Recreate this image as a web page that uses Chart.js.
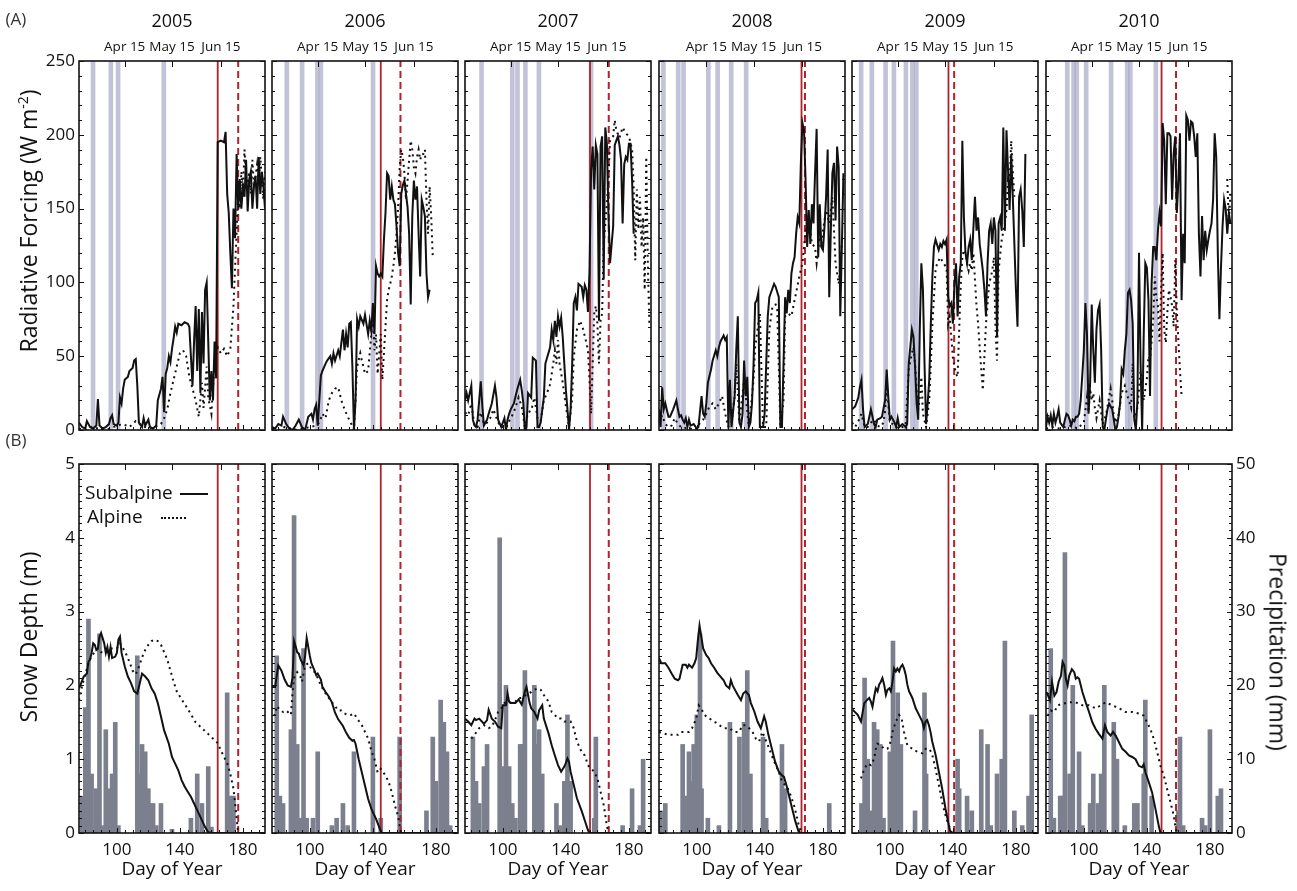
<!DOCTYPE html>
<html>
<head>
<meta charset="utf-8">
<script src="https://cdn.jsdelivr.net/npm/chart.js@4.4.1/dist/chart.umd.min.js"></script>
<style>
  body { margin: 0; background: #fff; font-family: 'Open Sans', sans-serif; color: #111; }
  #fig { position: relative; width: 1297px; height: 891px; overflow: hidden; }
  .panel { position: absolute; }
  .lbl { position: absolute; white-space: nowrap; line-height: 1; transform: translate(-50%, -50%); }
  .rotL { transform: translate(-50%, -50%) rotate(-90deg); }
  .rotR { transform: translate(-50%, -50%) rotate(90deg); }
  .lbl sup { font-size: 0.6em; vertical-align: 0.7em; }
  .leg { position: absolute; font-size: 19px; line-height: 1; white-space: nowrap; }
</style>
</head>
<body>
<div id="fig"></div>
<script>
// x axis: day of year
const X_MIN = 76, X_MAX = 194;
const years = [2005, 2006, 2007, 2008, 2009, 2010];
const monthLabels = ['Apr 15', 'May 15', 'Jun 15'];
const monthDays = [[105, 135, 166], [105, 135, 166], [105, 135, 166], [106, 136, 167], [105, 135, 166], [105, 135, 166]];
const dayTicks = [100, 140, 180];

// snowmelt dates (red lines): subalpine solid, alpine dashed
const meltSub = [164, 145, 155.3, 166.4, 137.2, 149.3];
const meltAlp = [177, 157.5, 167.2, 168.6, 140.8, 158.5];

// (A) shaded days
const bands2005 = [84.9, 96.2, 100.8, 129.8];
const bands2006 = [85.4, 95.1, 104.8, 107, 140.1];
const bands2007 = [86.5, 106, 109.3, 114.3, 122.9, 156];
const bands2008 = [78.8, 88.2, 91.6, 107.3, 113.2, 121.8, 131.3];
const bands2009 = [81.8, 88.6, 97.3, 102.6, 110.2, 114.3, 116.8];
const bands2010 = [89.5, 93.5, 95.5, 101.5, 117.3, 127.5, 129.5, 145.7];

// (A) radiative forcing, W m-2 : [day, value]
const rfSub2005 = [[76,5],[78,2],[80,1],[81,6],[83,2],[85,1],[87,3],[88,21],[89,3],[91,1],[93,2],[95,4],[96,8],[97,10],[98,4],[100,3],[101,5],[102,22],[103,18],[104,28],[105,34],[106,35],[107,36],[108,40],[110,42],[111,47],[112,48],[113,30],[114,5],[116,2],[117,8],[118,3],[120,7],[121,2],[123,1],[125,3],[126,20],[128,28],[129,36],[130,12],[131,38],[132,42],[133,50],[134,46],[135,55],[136,62],[137,70],[138,66],[139,72],[141,71],[143,73],[145,72],[146,70],[147,50],[148,30],[149,60],[150,84],[151,40],[152,82],[153,25],[154,80],[155,45],[156,95],[157,100],[158,60],[159,20],[160,40],[161,20],[162,60],[163,35],[164,195],[166,196],[168,195],[169,202],[170,160],[171,147],[172,120],[173,96],[174,150],[175,130],[176,187],[177,150],[178,170],[179,150],[180,165],[181,158],[182,183],[183,148],[184,170],[185,175],[186,150],[187,165],[188,172],[189,150],[190,185],[191,160],[192,175],[193,165],[194,150]];
const rfAlp2005 = [[76,1],[80,0],[84,2],[88,1],[92,0],[96,1],[100,3],[104,4],[108,2],[112,6],[116,3],[120,1],[124,2],[128,4],[130,8],[132,14],[134,25],[136,34],[138,43],[140,52],[142,54],[144,50],[146,36],[148,28],[150,20],[152,9],[154,32],[155,15],[157,43],[158,22],[160,11],[162,47],[164,56],[166,52],[168,55],[170,50],[172,55],[174,84],[175,110],[176,133],[177,165],[178,150],[179,175],[180,160],[181,190],[182,170],[183,167],[184,175],[185,160],[186,183],[187,165],[188,172],[189,180],[190,168],[191,185],[192,170],[193,156],[194,175]];
const rfSub2006 = [[76,2],[78,1],[80,4],[82,3],[83,9],[85,4],[87,1],[89,0],[91,3],[93,7],[95,2],[97,0],[99,9],[101,11],[102,7],[103,14],[104,17],[105,3],[107,37],[108,40],[110,45],[111,47],[113,50],[114,45],[115,52],[116,47],[118,54],[119,50],[120,59],[121,68],[122,54],[123,65],[124,56],[125,72],[126,73],[127,43],[128,0],[129,20],[130,75],[131,70],[132,77],[134,72],[135,78],[137,65],[138,74],[139,67],[140,86],[141,65],[142,111],[143,106],[144,104],[145,106],[146,104],[147,129],[148,147],[149,174],[150,172],[151,156],[152,165],[153,156],[154,153],[155,138],[156,120],[157,111],[158,160],[159,166],[160,169],[161,160],[162,151],[163,133],[164,85],[165,145],[166,169],[167,156],[168,165],[169,133],[170,104],[171,156],[172,151],[173,145],[174,106],[175,90],[176,95]];
const rfAlp2006 = [[76,1],[80,0],[84,2],[88,1],[92,0],[96,1],[100,2],[104,3],[106,5],[108,11],[110,8],[112,20],[114,25],[116,28],[118,29],[120,20],[122,14],[124,9],[126,5],[128,0],[130,43],[132,52],[133,47],[134,43],[135,38],[137,40],[139,65],[140,77],[141,54],[142,65],[143,38],[145,65],[146,34],[147,52],[148,70],[149,88],[150,95],[151,99],[152,104],[153,111],[154,120],[155,133],[156,151],[157,178],[158,190],[159,185],[160,174],[161,156],[162,169],[163,183],[164,196],[165,190],[166,178],[167,174],[168,185],[169,190],[170,183],[171,187],[172,187],[173,190],[174,156],[175,133],[176,165],[177,145],[178,117]];
const rfSub2007 = [[76,20],[77,25],[78,20],[80,30],[81,7],[82,3],[83,2],[84,7],[86,33],[87,16],[88,3],[90,7],[91,11],[93,18],[95,30],[96,22],[97,7],[99,2],[101,8],[102,0],[103,7],[104,11],[105,14],[107,18],[109,27],[111,34],[112,27],[113,18],[114,0],[115,2],[116,25],[118,22],[119,49],[121,47],[122,2],[123,2],[124,5],[126,22],[127,45],[130,56],[131,68],[132,61],[133,74],[134,63],[135,77],[136,70],[137,76],[138,63],[139,45],[140,27],[141,14],[142,0],[143,14],[144,45],[145,86],[146,90],[147,81],[148,99],[150,97],[151,90],[152,98],[153,95],[154,80],[155,108],[156,176],[157,192],[158,163],[159,193],[160,187],[161,74],[162,192],[163,199],[164,102],[165,205],[166,194],[167,147],[168,113],[170,138],[171,193],[172,196],[173,199],[174,193],[175,183],[176,140],[177,180],[178,185],[179,183],[180,194],[181,194],[182,169],[183,133]];
const rfAlp2007 = [[76,12],[78,10],[80,18],[82,3],[84,2],[86,12],[88,4],[90,5],[92,8],[94,14],[96,8],[98,3],[100,2],[102,1],[104,6],[106,10],[108,15],[110,22],[112,16],[114,2],[116,12],[118,13],[120,22],[122,8],[124,6],[126,20],[128,25],[130,31],[132,45],[133,54],[134,45],[135,61],[136,45],[138,32],[140,16],[142,2],[144,22],[145,49],[147,68],[149,74],[151,68],[153,59],[154,54],[155,34],[156,11],[158,79],[159,84],[160,72],[161,45],[162,74],[163,79],[164,126],[166,153],[167,170],[168,196],[170,199],[171,210],[172,203],[174,198],[176,205],[178,201],[180,199],[182,190],[183,165],[184,115],[185,163],[186,136],[187,158],[188,124],[189,144],[190,95],[191,185],[192,112],[193,70]];
const rfSub2008 = [[76,14],[77,2],[78,29],[79,14],[80,18],[82,9],[83,9],[85,14],[87,20],[88,14],[89,9],[90,10],[91,7],[92,5],[93,8],[94,2],[95,7],[96,3],[98,4],[100,1],[101,2],[103,23],[104,11],[105,9],[106,18],[107,32],[109,41],[110,47],[112,54],[113,50],[114,56],[115,60],[117,64],[118,61],[119,63],[120,2],[121,34],[122,2],[124,23],[125,54],[126,77],[127,5],[128,2],[129,11],[130,47],[131,23],[132,36],[133,2],[134,5],[135,18],[136,45],[137,86],[138,88],[139,93],[140,2],[142,2],[143,11],[145,77],[146,90],[147,93],[149,99],[150,97],[152,90],[153,2],[154,2],[155,45],[156,90],[157,79],[158,95],[159,86],[160,106],[161,113],[162,117],[163,133],[164,144],[165,140],[166,181],[167,208],[168,203],[169,169],[170,124],[171,149],[172,126],[173,153],[174,140],[175,174],[176,204],[177,117],[178,153],[179,124],[180,122],[181,138],[182,158],[183,190],[184,90],[185,135],[186,174],[187,181],[188,142],[189,192],[190,178],[191,77],[192,124],[193,174]];
const rfAlp2008 = [[76,5],[78,10],[80,4],[82,2],[84,3],[86,8],[88,4],[90,2],[92,1],[94,2],[96,1],[98,0],[100,1],[102,5],[104,7],[106,11],[108,16],[110,18],[112,14],[114,18],[116,23],[118,11],[120,2],[122,5],[124,23],[125,45],[127,5],[130,34],[133,2],[136,34],[137,56],[139,72],[140,79],[142,2],[144,2],[146,68],[148,84],[150,85],[151,83],[153,2],[155,20],[156,77],[158,79],[160,77],[162,88],[163,93],[165,104],[167,113],[169,135],[171,144],[173,126],[175,124],[176,113],[178,131],[179,124],[180,135],[182,149],[184,140],[186,158],[188,113],[190,99],[192,126]];
const rfSub2009 = [[76,14],[78,16],[80,22],[81,29],[82,34],[83,14],[84,2],[86,4],[88,14],[89,9],[90,4],[91,2],[92,7],[94,8],[95,9],[97,20],[98,41],[99,23],[100,7],[101,9],[102,7],[103,5],[104,2],[105,8],[106,2],[108,4],[110,2],[111,4],[112,45],[114,68],[115,63],[116,43],[117,18],[118,7],[119,68],[120,113],[121,95],[122,45],[123,4],[124,18],[125,34],[126,72],[127,104],[128,124],[129,129],[131,122],[132,126],[133,124],[134,128],[135,126],[136,129],[137,90],[138,84],[139,86],[140,72],[141,99],[142,113],[143,77],[144,104],[145,113],[146,196],[147,144],[148,120],[149,113],[150,124],[151,129],[152,115],[154,158],[155,135],[156,144],[157,126],[158,117],[159,108],[160,95],[161,77],[162,113],[163,135],[164,140],[165,126],[166,144],[167,135],[168,63],[169,140],[170,144],[171,135],[172,205],[173,135],[174,203],[175,176],[176,149],[177,187],[178,158],[180,95],[181,70],[182,158],[183,163],[184,149],[185,124],[186,187]];
const rfAlp2009 = [[76,5],[78,2],[80,6],[82,11],[84,2],[86,2],[88,5],[90,7],[92,3],[94,2],[96,5],[97,13],[98,32],[99,18],[100,5],[102,4],[104,2],[106,1],[108,2],[110,3],[112,41],[114,52],[115,56],[116,45],[117,27],[118,14],[119,22],[120,36],[121,11],[123,2],[125,20],[126,45],[127,72],[128,90],[129,108],[130,113],[132,117],[134,113],[136,110],[137,72],[138,77],[139,63],[140,49],[141,43],[142,38],[143,36],[145,99],[146,117],[147,122],[148,120],[149,113],[150,108],[151,113],[152,108],[153,120],[155,84],[156,72],[157,56],[158,41],[159,27],[161,72],[163,99],[165,108],[166,117],[167,70],[168,47],[169,108],[171,129],[173,140],[174,149],[175,169],[176,165],[177,196],[178,176],[179,158]];
const rfSub2010 = [[76,2],[77,9],[78,5],[79,10],[80,3],[81,11],[82,5],[83,9],[84,14],[85,5],[87,2],[88,7],[89,11],[90,10],[91,7],[92,3],[93,7],[94,6],[95,9],[96,9],[97,11],[98,20],[100,54],[101,86],[102,65],[103,11],[104,32],[105,85],[106,54],[107,32],[108,68],[109,81],[110,85],[111,54],[112,2],[113,0],[114,7],[115,14],[116,18],[118,14],[119,7],[120,0],[121,2],[122,9],[123,18],[124,41],[125,38],[126,54],[127,65],[128,93],[129,95],[130,88],[131,72],[132,7],[133,0],[134,20],[135,120],[136,45],[137,0],[138,65],[139,113],[140,110],[141,88],[142,23],[143,99],[144,124],[145,124],[146,115],[147,135],[148,147],[149,138],[150,208],[151,196],[152,153],[153,201],[154,201],[155,199],[156,156],[157,187],[158,199],[159,147],[160,169],[161,201],[162,88],[163,133],[164,113],[165,213],[166,210],[167,196],[168,209],[169,208],[170,199],[171,185],[172,201],[173,133],[174,104],[175,145],[176,115],[177,135],[178,122],[179,129],[180,135],[181,140],[182,156],[183,201],[184,185],[185,120],[186,75],[187,110],[188,138],[189,156],[190,150],[191,133],[192,147],[193,140]];
const rfAlp2010 = [[76,1],[80,2],[84,1],[88,2],[92,3],[96,1],[100,5],[102,22],[103,12],[104,28],[105,20],[106,25],[107,15],[108,8],[110,20],[112,4],[114,10],[116,22],[117,28],[118,20],[119,10],[120,5],[122,10],[124,25],[126,30],[128,22],[130,15],[131,45],[132,8],[134,15],[136,40],[138,20],[140,35],[141,50],[142,48],[143,60],[144,75],[145,104],[146,90],[147,84],[148,60],[149,95],[150,120],[151,68],[152,59],[153,80],[154,95],[155,90],[156,84],[157,70],[158,115],[159,80],[160,60],[161,40],[162,23],[163,null],[191,170],[192,140],[193,160]];

// (B) snow depth, m : [day, value]
const snowSub2005 = [[76,1.96],[79,2.12],[81,2.16],[82,2.32],[83,2.35],[84,2.44],[85,2.57],[86,2.55],[87,2.48],[88,2.5],[89,2.66],[90,2.71],[92,2.57],[93,2.44],[94,2.52],[95,2.39],[96,2.52],[97,2.37],[99,2.39],[100,2.44],[101,2.62],[102,2.66],[103,2.44],[105,2.26],[107,2.12],[109,2.03],[111,1.92],[113,1.89],[115,2.07],[116,2.16],[118,2.12],[120,2.07],[122,1.96],[124,1.89],[126,1.76],[128,1.58],[130,1.39],[133,1.21],[135,1.03],[137,0.94],[139,0.85],[141,0.72],[143,0.63],[145,0.56],[147,0.49],[149,0.4],[151,0.31],[154,0.17],[156,0.08],[158,0.01],[161,0],[194,0]];
const snowAlp2005 = [[76,1.8],[78,2.0],[80,2.15],[82,2.3],[84,2.4],[86,2.45],[88,2.5],[90,2.45],[92,2.45],[94,2.45],[96,2.5],[98,2.5],[100,2.5],[102,2.57],[104,2.5],[106,2.42],[108,2.32],[110,2.2],[112,2.15],[114,2.25],[116,2.38],[118,2.48],[120,2.55],[122,2.6],[124,2.62],[126,2.6],[128,2.55],[130,2.45],[132,2.35],[134,2.2],[136,2.05],[138,1.92],[140,1.85],[145,1.68],[150,1.5],[155,1.4],[160,1.3],[164,1.22],[166,1.12],[168,1.03],[170,0.95],[172,0.8],[174,0.6],[175,0.4],[176,0.2],[177,0],[194,0]];
const snowSub2006 = [[76,1.98],[78,1.98],[80,2.27],[82,2.2],[84,2.08],[86,2.0],[88,1.98],[89,2.1],[90,2.6],[91,2.53],[92,2.45],[93,2.43],[94,2.36],[96,2.27],[97,2.4],[98,2.64],[100,2.4],[101,2.3],[103,2.2],[104,2.14],[105,2.16],[107,2.08],[108,1.98],[110,1.91],[112,1.85],[114,1.77],[116,1.63],[118,1.54],[121,1.45],[123,1.36],[125,1.29],[127,1.25],[128,1.26],[129,1.21],[131,1.0],[133,0.82],[135,0.64],[137,0.46],[139,0.33],[142,0.19],[144,0.08],[145.5,0],[194,0]];
const snowAlp2006 = [[77,1.6],[78,1.6],[79,1.72],[81,1.67],[83,1.64],[85,1.66],[88,1.6],[89,1.9],[90,2.1],[92,2.18],[94,2.12],[95,2.05],[97,2.27],[99,2.3],[101,2.22],[103,2.18],[105,2.1],[107,2.0],[110,1.89],[112,1.83],[114,1.77],[116,1.72],[118,1.66],[120,1.66],[122,1.62],[124,1.6],[126,1.6],[128,1.62],[130,1.55],[133,1.46],[135,1.37],[137,1.28],[139,1.12],[141,1.0],[143,0.82],[145,0.87],[148,0.78],[150,0.69],[152,0.55],[154,0.37],[156,0.23],[157,0.1],[158,0],[194,0]];
const snowSub2007 = [[76,1.55],[78,1.51],[80,1.46],[82,1.55],[83,1.53],[85,1.55],[88,1.48],[90,1.53],[91,1.67],[93,1.55],[95,1.51],[97,1.44],[99,1.42],[100,1.73],[102,1.73],[103,1.89],[104,1.78],[105,1.76],[108,1.76],[110,1.81],[112,1.74],[113,1.83],[114,1.92],[115,1.98],[116,1.87],[117,1.76],[118,1.69],[120,1.64],[122,1.55],[123,1.66],[125,1.73],[126,1.55],[129,1.35],[131,1.19],[133,1.05],[135,0.92],[137,0.83],[139,0.9],[140,0.95],[141,1.01],[142,0.96],[143,0.83],[145,0.65],[147,0.47],[150,0.3],[152,0.17],[154,0.04],[155,0],[194,0]];
const snowAlp2007 = [[80,1.28],[82,1.33],[85,1.42],[88,1.46],[91,1.42],[93,1.44],[95,1.53],[97,1.64],[99,1.69],[101,1.76],[103,1.78],[106,1.76],[108,1.78],[110,1.83],[112,1.83],[114,1.86],[116,1.89],[118,1.91],[120,1.94],[122,1.96],[124,1.94],[126,1.87],[129,1.78],[131,1.64],[133,1.6],[135,1.55],[137,1.55],[139,1.51],[141,1.51],[143,1.51],[145,1.42],[147,1.24],[150,1.1],[152,1.05],[154,0.92],[156,0.87],[158,0.83],[160,0.74],[162,0.56],[164,0.38],[165,0.24],[166,0.1],[167,0],[194,0]];
const snowSub2008 = [[76,2.37],[77.5,2.3],[80,2.3],[82,2.24],[84,2.16],[86,2.09],[88,2.07],[89,2.09],[91,2.28],[93,2.28],[94,2.24],[95,2.28],[97,2.24],[98.5,2.3],[99.6,2.37],[100.6,2.6],[101.7,2.81],[102.7,2.68],[104,2.5],[106,2.41],[107.5,2.37],[109,2.3],[111,2.24],[113,2.17],[115,2.12],[117,2.07],[118.5,2.0],[120.6,1.96],[121.6,2.07],[122.7,2.0],[123.7,1.96],[126,1.87],[128,1.8],[129.4,1.89],[131,1.92],[133,1.87],[134.3,1.76],[136.4,1.65],[138.5,1.51],[140.6,1.42],[142.7,1.58],[143.7,1.51],[145.4,1.33],[147.5,1.15],[149.6,0.97],[152,0.83],[154,0.78],[155.3,0.76],[156.8,0.65],[158.4,0.51],[160.5,0.33],[162.6,0.15],[164.7,0.01],[166,0],[194,0]];
const snowAlp2008 = [[76,1.37],[79,1.35],[82,1.33],[85,1.33],[88,1.33],[90,1.37],[93,1.37],[95,1.37],[97,1.42],[99.6,1.55],[101.2,1.73],[102.7,1.69],[104.8,1.6],[108,1.55],[111.1,1.51],[114.3,1.46],[117.4,1.42],[120.6,1.42],[123.7,1.37],[126.9,1.37],[129,1.46],[131.1,1.46],[133.2,1.42],[135.3,1.37],[137.4,1.28],[139.5,1.24],[141.6,1.37],[143.7,1.26],[145.8,1.15],[149,0.97],[152,0.83],[154.2,0.69],[157.4,0.62],[159.5,0.51],[161.6,0.38],[163.7,0.2],[164.7,0.1],[166.4,0],[194,0]];
const snowSub2009 = [[76.4,1.67],[79.6,1.6],[81.7,1.51],[83.8,1.76],[85.9,1.81],[86.9,1.83],[88,1.78],[89,1.71],[90.1,1.85],[91.1,1.96],[92.2,1.92],[93.2,2.01],[94.3,2.05],[95.3,2.1],[96.4,2.01],[97.5,1.87],[98.5,1.94],[99.6,1.96],[100.6,1.92],[101.7,2.05],[102.7,2.23],[103.8,2.19],[104.8,2.23],[105.9,2.19],[106.9,2.25],[108,2.28],[109,2.23],[110.1,2.14],[111.1,2.01],[112.2,1.92],[114.3,1.83],[116.4,1.69],[118.5,1.6],[120.6,1.51],[121.6,1.42],[122.7,1.51],[123.7,1.53],[124.8,1.46],[125.8,1.37],[126.9,1.24],[129,1.06],[131.1,0.83],[133.2,0.6],[135.3,0.33],[137,0.15],[138.5,0],[194,0]];
const snowAlp2009 = [[81.7,0.74],[83.8,0.87],[85.9,0.94],[88,0.92],[90.1,1.01],[91.1,1.14],[92.2,1.21],[94.3,1.19],[96.4,1.14],[98.5,1.14],[100.6,1.24],[101.7,1.37],[103.8,1.51],[105.9,1.6],[107.5,1.55],[109,1.37],[111.1,1.19],[114.3,1.14],[117.4,1.1],[120.6,1.08],[122.7,1.14],[125.2,1.14],[126.9,1.06],[129,0.87],[131.1,0.65],[133.2,0.42],[135.3,0.24],[137.4,0.1],[139.5,0],[194,0]];
const snowSub2010 = [[76.4,1.91],[78.5,1.8],[79.8,2.05],[81.3,1.86],[82.7,1.91],[84,2.05],[85.5,2.13],[86.5,2.32],[87.6,2.27],[88.6,2.09],[89.7,2.0],[90.7,2.13],[92.4,2.22],[93.9,2.18],[94.9,2.09],[96,2.11],[97,2.09],[99.1,1.91],[101.2,1.77],[103.3,1.64],[105.4,1.5],[107.5,1.41],[109.6,1.34],[111.8,1.28],[113.4,1.46],[114.9,1.37],[117,1.32],[118.5,1.37],[120.2,1.32],[122.3,1.23],[124.4,1.14],[126.5,1.1],[128.6,1.05],[130.7,1.03],[132.8,1.0],[134.9,0.91],[137,0.89],[138,0.93],[139.1,0.82],[141.2,0.69],[143.3,0.55],[145.4,0.33],[147.5,0.1],[148.6,0],[194,0]];
const snowAlp2010 = [[77,1.59],[79,1.66],[81.3,1.64],[83.4,1.73],[86.5,1.75],[90.7,1.77],[94.9,1.77],[99.1,1.73],[103.3,1.73],[107.5,1.69],[110.7,1.73],[113.9,1.77],[118.1,1.73],[122.3,1.69],[126.5,1.64],[130.7,1.64],[134.9,1.62],[138,1.59],[140.1,1.5],[142.2,1.41],[144.3,1.28],[146.5,1.1],[148.6,0.91],[150.7,0.78],[152.8,0.6],[154.9,0.42],[157,0.24],[158,0.1],[159,0],[194,0]];

// (B) precipitation, mm : [day, value]
const precip2005 = [[78,5],[80,17],[82,29],[84,8],[87,6],[89,27],[91,1],[93,14],[95,6],[97,8],[99,15],[101,1],[113,24],[115,8],[116,12],[118,11],[120,6],[121,4],[123,4],[125,1],[128,4],[135,0.5],[147,2],[151,8],[154,4],[158,9],[160,0.8],[170,19],[172,5],[174,5]];
const precip2006 = [[79,24],[81,5],[83,4],[88,14],[90,43],[92,12],[94,2],[96,25],[98,2],[102,2],[105,11],[114,1],[117,2],[121,4],[124,1],[128,11],[140,13],[145,2],[157,13],[174,3],[178,13],[180,7],[183,18],[185,15],[187,11],[189,1]];
const precip2007 = [[81,13],[83,7],[85,4],[88,9],[90,12],[98,40],[100,9],[102,20],[104,9],[106,4],[108,2],[111,12],[112,12],[114,22],[120,20],[122,12],[123,14],[125,8],[134,4],[136,1],[139,7],[141,16],[143,7],[158,2],[159,13],[176,1],[182,6],[187,1],[189,10]];
const precip2008 = [[77,3],[80,4],[91,12],[93,5],[95,11],[97,7],[98,12],[100,16],[102,27],[103,6],[107,2],[114,1],[121,15],[127,13],[130,15],[132,22],[134,8],[142,13],[144,2],[154,12],[156,6],[184,4]];
const precip2009 = [[82,4],[84,21],[86,10],[88,3],[90,15],[92,14],[94,12],[96,2],[100,11],[102,26],[104,15],[105,19],[107,12],[116,3],[122,19],[123,8],[143,10],[144,6],[149,5],[152,3],[158,14],[162,12],[164,1],[168,8],[171,10],[173,26],[179,3],[184,1],[188,5],[190,16]];
const precip2010 = [[79,25],[81,2],[85,5],[86,5],[88,38],[91,8],[93,20],[97,11],[99,1],[104,4],[106,8],[109,4],[111,8],[113,20],[119,15],[121,10],[126,1],[132,4],[134,4],[138,8],[139,18],[143,5],[160,3],[161,13],[163,1],[175,2],[177,1],[180,14],[185,5],[187,6]];

const bands = [bands2005, bands2006, bands2007, bands2008, bands2009, bands2010];
const rfSub = [rfSub2005, rfSub2006, rfSub2007, rfSub2008, rfSub2009, rfSub2010];
const rfAlp = [rfAlp2005, rfAlp2006, rfAlp2007, rfAlp2008, rfAlp2009, rfAlp2010];
const snowSub = [snowSub2005, snowSub2006, snowSub2007, snowSub2008, snowSub2009, snowSub2010];
const snowAlp = [snowAlp2005, snowAlp2006, snowAlp2007, snowAlp2008, snowAlp2009, snowAlp2010];
const precip = [precip2005, precip2006, precip2007, precip2008, precip2009, precip2010];

// layout
const panelLeft = [79, 272, 465, 659, 852, 1046];
const panelW = 186, panelH = 369;
const rowTop = [61, 464];
const ML = 70, MR = 70, MT = 60, MB = 60;

const BAND = 'rgba(170,170,202,0.72)';
const GRAY = '#7c808e';
const RED = '#b0232a';

Chart.defaults.font.family = "'Open Sans', sans-serif";
Chart.defaults.color = '#111';

const fig = document.getElementById('fig');

// inward ticks + box frame, matlab style
const frameTicks = {
    id: 'frameTicks',
    afterDatasetsDraw(chart, args, opts) {
        const { ctx, chartArea: a } = chart;
        const x = chart.scales.x, y = chart.scales.y;
        ctx.save();
        ctx.strokeStyle = '#111';
        ctx.lineWidth = 1;
        ctx.beginPath();
        for (let d = 80; d <= 190; d += 5) {
            const px = Math.round(x.getPixelForValue(d)) + 0.5;
            const len = dayTicks.includes(d) ? 5 : 3;
            ctx.moveTo(px, a.bottom); ctx.lineTo(px, a.bottom - len);
        }
        opts.months.forEach(d => {
            const px = Math.round(x.getPixelForValue(d)) + 0.5;
            ctx.moveTo(px, a.top); ctx.lineTo(px, a.top + 6);
        });
        for (let i = 0; i <= opts.count; i++) {
            const py = Math.round(y.getPixelForValue(i * opts.step)) + 0.5;
            const len = i % opts.every === 0 ? 5 : 3;
            ctx.moveTo(a.left, py); ctx.lineTo(a.left + len, py);
            ctx.moveTo(a.right, py); ctx.lineTo(a.right - len, py);
        }
        ctx.stroke();
        ctx.lineWidth = 1.6;
        ctx.strokeRect(a.left, a.top, a.right - a.left, a.bottom - a.top);
        ctx.restore();
    }
};

function pts(arr) {
    return arr.map(p => ({ x: p[0], y: p[1] }));
}

function lineDs(arr, dotted) {
    return {
        type: 'line', xAxisID: 'x', yAxisID: 'y', data: pts(arr),
        borderColor: '#111', borderWidth: 2, borderDash: dotted ? [2, 4] : [],
        pointRadius: 0, tension: 0, fill: false, order: 1
    };
}

function redLine(day, yMax, dashed) {
    return {
        type: 'line', xAxisID: 'x', yAxisID: 'y', data: [{ x: day, y: 0 }, { x: day, y: yMax }],
        borderColor: RED, borderWidth: dashed ? 2 : 1.8, borderDash: dashed ? [7, 4] : [],
        pointRadius: 0, order: 2
    };
}

function makePanel(row, col) {
    const top = row === 0;
    const box = document.createElement('div');
    box.className = 'panel';
    box.style.left = (panelLeft[col] - ML) + 'px';
    box.style.top = (rowTop[row] - MT) + 'px';
    box.style.width = (panelW + ML + MR) + 'px';
    box.style.height = (panelH + MT + MB) + 'px';
    const cv = document.createElement('canvas');
    box.appendChild(cv);
    fig.appendChild(box);

    const yMax = top ? 250 : 5;
    const datasets = [];
    if (top) {
        datasets.push({ type: 'bar', xAxisID: 'x', yAxisID: 'y', data: bands[col].map(d => ({ x: d, y: 250 })),
            backgroundColor: BAND, borderWidth: 0, barThickness: 4, grouped: false, order: 5 });
        datasets.push(lineDs(rfSub[col], false));
        datasets.push(lineDs(rfAlp[col], true));
    } else {
        datasets.push({ type: 'bar', xAxisID: 'x', yAxisID: 'y2', data: pts(precip[col]),
            backgroundColor: GRAY, borderWidth: 0, barThickness: 4, grouped: false, order: 5 });
        datasets.push(lineDs(snowSub[col], false));
        datasets.push(lineDs(snowAlp[col], true));
    }
    datasets.push(redLine(meltSub[col], yMax, false));
    datasets.push(redLine(meltAlp[col], yMax, true));

    const noGrid = { display: false, drawTicks: false, tickLength: 0 };

    new Chart(cv, {
        type: 'line',
        data: { datasets },
        plugins: [frameTicks],
        options: {
            responsive: true,
            maintainAspectRatio: false,
            animation: false,
            events: [],
            layout: { padding: 0, autoPadding: false },
            plugins: {
                legend: { display: false },
                tooltip: { enabled: false },
                frameTicks: top
                    ? { months: monthDays[col], count: 25, step: 10, every: 5 }
                    : { months: monthDays[col], count: 50, step: 0.1, every: 10 }
            },
            scales: {
                x: {
                    type: 'linear', position: 'bottom', min: X_MIN, max: X_MAX, offset: false,
                    grid: noGrid, border: { display: false },
                    afterBuildTicks: s => { s.ticks = dayTicks.map(v => ({ value: v })); },
                    ticks: { display: !top, autoSkip: false, maxRotation: 0, padding: 7, font: { size: 17 } },
                    afterFit: s => { s.height = MB; }
                },
                x2: {
                    type: 'linear', position: 'top', min: X_MIN, max: X_MAX, offset: false,
                    grid: noGrid, border: { display: false },
                    afterBuildTicks: s => { s.ticks = monthDays[col].map(v => ({ value: v })); },
                    ticks: { display: top, autoSkip: false, maxRotation: 0, padding: 6, font: { size: 13.5 },
                        callback: (v, i) => monthLabels[i] },
                    afterFit: s => { s.height = MT; }
                },
                y: {
                    position: 'left', min: 0, max: yMax,
                    grid: noGrid, border: { display: false },
                    ticks: { display: col === 0, stepSize: top ? 50 : 1, padding: 4, font: { size: 17 } },
                    afterFit: s => { s.width = ML; }
                },
                y2: {
                    position: 'right', min: 0, max: 50,
                    grid: noGrid, border: { display: false },
                    ticks: { display: !top && col === 5, stepSize: 10, padding: 4, font: { size: 17 } },
                    afterFit: s => { s.width = MR; }
                }
            }
        }
    });
}

years.forEach((yr, i) => {
    makePanel(0, i);
    makePanel(1, i);
});

// text: panel letters, years, axis titles
function label(html, x, y, size, cls) {
    const el = document.createElement('div');
    el.className = 'lbl' + (cls ? ' ' + cls : '');
    el.style.left = x + 'px';
    el.style.top = y + 'px';
    el.style.fontSize = size + 'px';
    el.innerHTML = html;
    fig.appendChild(el);
    return el;
}

label('(A)', 16, 18, 17).style.color = '#333';
label('(B)', 16, 439, 17).style.color = '#333';
years.forEach((yr, i) => {
    const cx = panelLeft[i] + panelW / 2;
    label(String(yr), cx, 20, 18);
    label('Day of Year', cx, 868, 19);
});
label('Radiative Forcing (W m<sup>-2</sup>)', 28, 221, 23, 'rotL');
label('Snow Depth (m)', 28, 637, 23, 'rotL');
label('Precipitation (mm)', 1278, 652, 23, 'rotR');

// legend in first snow panel
function legend(text, x, y, lineX, lineW, style) {
    const t = document.createElement('div');
    t.className = 'leg';
    t.style.left = x + 'px';
    t.style.top = (y - 10) + 'px';
    t.textContent = text;
    fig.appendChild(t);
    const l = document.createElement('div');
    l.style.position = 'absolute';
    l.style.left = lineX + 'px';
    l.style.top = y + 'px';
    l.style.width = lineW + 'px';
    l.style.borderTop = '2px ' + style + ' #111';
    fig.appendChild(l);
}
legend('Subalpine', 85, 493, 180, 28, 'solid');
legend('Alpine', 87, 517, 161, 25, 'dotted');
</script>
</body>
</html>
